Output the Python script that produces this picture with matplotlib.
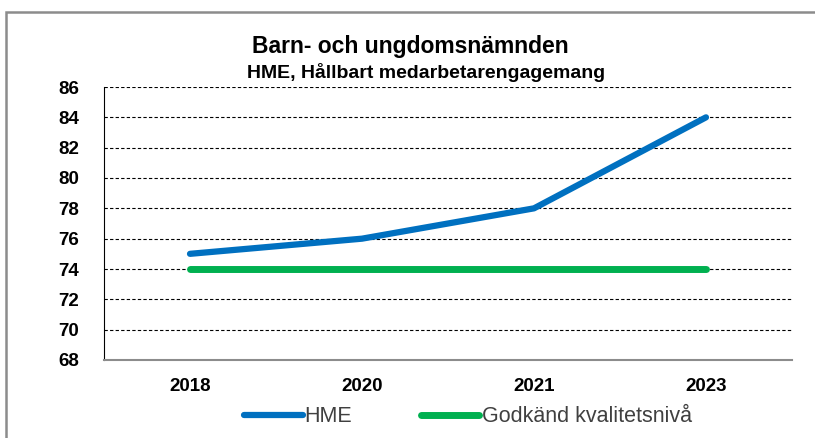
import matplotlib
matplotlib.use("Agg")
import matplotlib.pyplot as plt
from matplotlib.patches import Rectangle

years = ['2018', '2020', '2021', '2023']
hme = [75, 76, 78, 84]
godkand = [74, 74, 74, 74]

plt.rcParams['font.family'] = ['Liberation Sans', 'DejaVu Sans']

fig = plt.figure(figsize=(8.15, 4.38), dpi=100)
ax = fig.add_axes([104/815, 1-360/438, 688/815, (360-87)/438])

# chart frame (Excel style, cut at right/bottom)
fig.patches.append(Rectangle((6/815, -0.1), 1.2, 1-12/438+0.1, transform=fig.transFigure,
                             fill=False, edgecolor='#8c8c8c', linewidth=1.8))

x = range(len(years))
ax.plot(x, hme, color='#0070C0', linewidth=4.5, solid_capstyle='round', label='HME', zorder=3)
ax.plot(x, godkand, color='#00B050', linewidth=5, solid_capstyle='round',
        label='Godkänd kvalitetsnivå', zorder=3)

ax.set_xlim(-0.5, len(years) - 0.5)
ax.set_ylim(68, 86)
ax.set_yticks(range(68, 87, 2))
ax.set_xticks(list(x))
ax.set_xticklabels(years)
ax.yaxis.grid(True, linestyle=(0, (3, 2)), color='black', linewidth=0.8)
ax.set_axisbelow(True)
ax.tick_params(length=0, labelsize=13.5)
ax.tick_params(axis='y', pad=18)
ax.tick_params(axis='x', pad=13)
for lab in ax.get_xticklabels() + ax.get_yticklabels():
    lab.set_fontweight('bold')
for s in ['top', 'right']:
    ax.spines[s].set_visible(False)
ax.spines['left'].set_color('black')
ax.spines['bottom'].set_color('#8c8c8c')
ax.spines['bottom'].set_linewidth(1.5)

fig.text(410/815, 1-47/438, 'Barn- och ungdomsnämnden', ha='center', va='center',
         fontsize=16.5, fontweight='bold')
fig.text(426/815, 1-72/438, 'HME, Hållbart medarbetarengagemang', ha='center', va='center',
         fontsize=14, fontweight='bold')

leg = fig.legend(loc='center', bbox_to_anchor=(468/815, 1-417/438), ncol=2, frameon=False,
                 fontsize=15.5, handlelength=2.7, handletextpad=0.1, columnspacing=3.2)
for t in leg.get_texts():
    t.set_color('#404040')

fig.savefig('out.png', dpi=100)
